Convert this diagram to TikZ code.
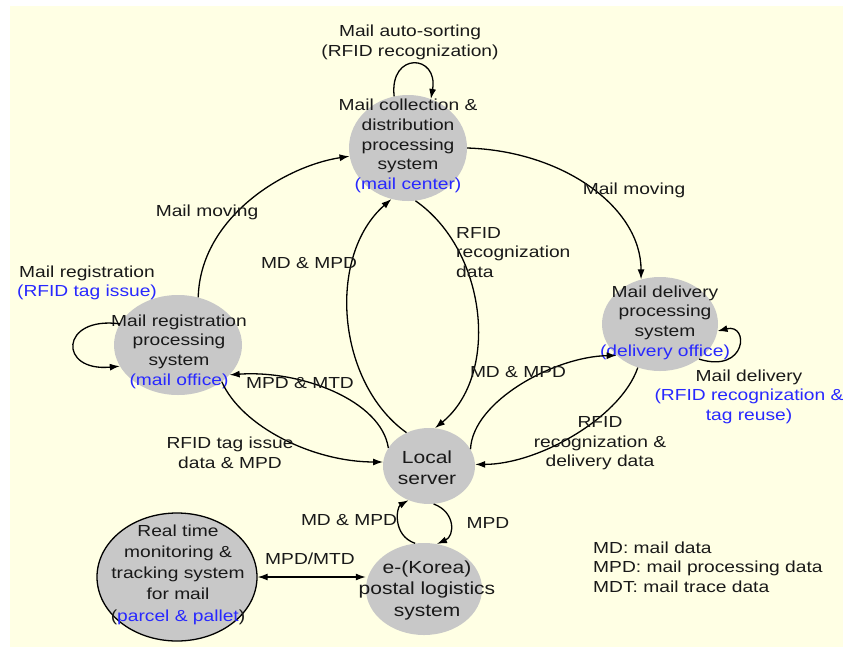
\documentclass[tikz,border=0pt]{standalone}
\usepackage{fontspec}
\setmainfont{Liberation Sans}[FakeStretch=1.2]
\usetikzlibrary{arrows.meta,shapes.geometric}
\definecolor{bgyellow}{RGB}{255,255,228}
\definecolor{nodegray}{RGB}{200,200,200}
\definecolor{lblblue}{RGB}{40,40,255}
\definecolor{txt}{RGB}{25,25,25}
\begin{document}
\begin{tikzpicture}[x=1pt,y=-1pt,
  sysnode/.style={ellipse, fill=nodegray, inner sep=0pt},
  systext/.style={align=center, font=\fontsize{16}{19.6}\selectfont, text=txt, inner sep=0pt},
  bigtext/.style={align=center, font=\fontsize{17.5}{21.5}\selectfont, text=txt, inner sep=0pt},
  lbl/.style={align=center, font=\fontsize{16}{19.6}\selectfont, text=txt, inner sep=0pt},
  flow/.style={line width=1.3pt, -{Latex[length=10pt,width=7pt]}},
  both/.style={line width=1.3pt, {Latex[length=10pt,width=7pt]}-{Latex[length=10pt,width=7pt]}},
]
\useasboundingbox (0,0) rectangle (843,646);
\fill[bgyellow] (10,6) rectangle (880,690);

% system nodes
\node[sysnode, minimum width=118pt, minimum height=106pt] (coll) at (408,148) {};
\node[sysnode, minimum width=128pt, minimum height=100pt] (reg) at (178,345) {};
\node[sysnode, minimum width=116pt, minimum height=94pt] (del) at (660,324) {};
\node[sysnode, minimum width=92pt, minimum height=76pt] (loc) at (429,466) {};
\node[sysnode, minimum width=116pt, minimum height=92pt] (post) at (424,589) {};
\node[sysnode, draw=black, line width=1.3pt, minimum width=160pt, minimum height=128pt] (rt) at (177,577) {};

\node[systext] (colltxt) at (408,146) {Mail collection \&\\distribution\\processing\\system\\{\color{lblblue}(mail center)}};
\node[systext] (regtxt) at (179,351.5) {Mail registration\\processing\\system\\{\color{lblblue}(mail office)}};
\node[systext] (deltxt) at (665,322.5) {Mail delivery\\processing\\system\\{\color{lblblue}(delivery office)}};
\node[bigtext] (loctxt) at (427,467.5) {Local\\server};
\node[bigtext] (posttxt) at (427,590) {e-(Korea)\\postal logistics\\system};
\node[systext, font=\fontsize{16}{21.2}\selectfont] (rttxt) at (178,574.5) {Real time\\monitoring \&\\tracking system\\for mail\\({\color{lblblue}parcel \& pallet})};

% self loops
\draw[flow] (coll.105) .. controls +(-5,-45) and +(8,-45) .. (coll.65);
\draw[flow] (reg.160) .. controls +(-60,-8) and +(-62,6) .. (reg.200);
\draw[flow] (del.318) .. controls +(48,15) and +(32,-8) .. (del.353);

% connectors
\draw[flow] (reg.67) .. controls +(2,-80) and +(-65,10) .. (coll.188);
\draw[flow] (coll.0) .. controls +(96,3) and +(0,-72) .. (del.113);
\draw[flow] (loc.124) .. controls +(-70,-50) and +(-65,57) .. (coll.252);
\draw[flow] (coll.278) .. controls +(72,50) and +(65,-53) .. (loc.81);
\draw[flow] (loc.156) .. controls +(-7,-47) and +(72,-5) .. (reg.330);
\draw[flow] (reg.320) .. controls +(20,45) and +(-70,0) .. (loc.175);
\draw[flow] (loc.22) .. controls +(2,-48) and +(-62,1) .. (del.216);
\draw[flow] (del.243) .. controls +(-17,50) and +(63,0) .. (loc.2);
\draw[flow] (post.101) .. controls +(-23,-8) and +(-12,7) .. (loc.239);
\draw[flow] (loc.277) .. controls +(22,8) and +(18,-8) .. (post.74);
\draw[both] (rt.east) -- (rt.east -| post.west);

% labels
\node[lbl] (lauto) at (410,42.5) {Mail auto-sorting\\(RFID recognization)};
\node[lbl] (lreg) at (87,283) {Mail registration\\{\color{lblblue}(RFID tag issue)}};
\node[lbl] (lmove1) at (207,212) {Mail moving};
\node[lbl] (lmove2) at (634,190) {Mail moving};
\node[lbl] (lmd1) at (309,263) {MD \& MPD};
\node[lbl, anchor=west, align=left] (lrfid1) at (456,252.5) {RFID\\recognization\\data};
\node[lbl] (lmtd) at (300,383) {MPD \& MTD};
\node[lbl] (ltag) at (230,453) {RFID tag issue\\data \& MPD};
\node[lbl] (lmd2) at (518,372) {MD \& MPD};
\node[lbl] (lrfid2) at (600,443.5) {RFID\\recognization \&\\delivery data};
\node[lbl] (lmd3) at (349,520) {MD \& MPD};
\node[lbl] (lmpd) at (488,523) {MPD};
\node[lbl] (lmtd2) at (310,559) {MPD/MTD};
\node[lbl] (ldel) at (749,396.5) {Mail delivery\\{\color{lblblue}(RFID recognization \&}\\{\color{lblblue}tag reuse)}};
\node[lbl, anchor=west, align=left] (legend) at (593,567) {MD: mail data\\MPD: mail processing data\\MDT: mail trace data};
\end{tikzpicture}
\end{document}
